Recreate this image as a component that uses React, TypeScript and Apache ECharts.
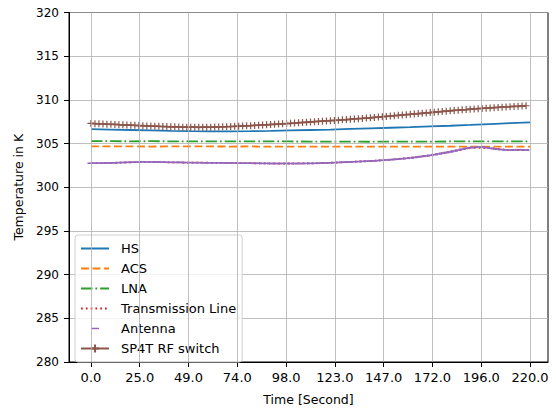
import React, { useEffect, useRef } from "react";
import * as echarts from "echarts";

// Sample grids (seconds)
const tDense: number[] = Array.from({ length: 110 }, (_, i) => i * 2);
const tCoarse: number[] = Array.from({ length: 23 }, (_, i) => i * 10);

const xTickLabels = ["0.0", "25.0", "49.0", "74.0", "98.0", "123.0", "147.0", "172.0", "196.0", "220.0"];

const hsValues = [
  306.65, 306.6, 306.55, 306.5, 306.45, 306.42, 306.4, 306.4, 306.42, 306.45, 306.5, 306.55,
  306.6, 306.67, 306.74, 306.81, 306.88, 306.96, 307.04, 307.13, 307.23, 307.33, 307.43,
];
const acsValues = [
  304.68, 304.67, 304.68, 304.66, 304.67, 304.68, 304.67, 304.66, 304.67, 304.65, 304.66, 304.65,
  304.64, 304.65, 304.64, 304.65, 304.64, 304.65, 304.66, 304.65, 304.66, 304.65, 304.66,
];
const lnaValues = [
  305.27, 305.27, 305.26, 305.27, 305.26, 305.26, 305.25, 305.26, 305.25, 305.24, 305.24, 305.23,
  305.22, 305.22, 305.21, 305.22, 305.22, 305.23, 305.24, 305.25, 305.24, 305.25, 305.25,
];
const transmissionValues = [
  302.75, 302.78, 302.86, 302.9, 302.85, 302.82, 302.8, 302.78, 302.75, 302.72, 302.72, 302.73,
  302.8, 302.9, 303.0, 303.15, 303.35, 303.65, 304.05, 304.52, 304.48, 304.25, 304.25,
];
const antennaValues = [
  302.75, 302.76, 302.75, 302.77, 302.78, 302.78, 302.8, 302.82, 302.83, 302.85,
  302.86, 302.87, 302.88, 302.9, 302.89, 302.9, 302.88, 302.89, 302.87, 302.86,
  302.85, 302.84, 302.85, 302.83, 302.82, 302.82, 302.81, 302.82, 302.8, 302.8,
  302.8, 302.79, 302.8, 302.78, 302.78, 302.78, 302.77, 302.76, 302.76, 302.75,
  302.75, 302.74, 302.74, 302.73, 302.73, 302.72, 302.72, 302.71, 302.72, 302.72,
  302.72, 302.71, 302.72, 302.72, 302.73, 302.73, 302.74, 302.75, 302.77, 302.78,
  302.8, 302.82, 302.84, 302.86, 302.88, 302.9, 302.92, 302.94, 302.96, 302.98,
  303.0, 303.03, 303.06, 303.09, 303.12, 303.15, 303.19, 303.23, 303.27, 303.31,
  303.35, 303.41, 303.47, 303.53, 303.59, 303.65, 303.73, 303.81, 303.89, 303.97,
  304.05, 304.15, 304.25, 304.35, 304.45, 304.52, 304.57, 304.6, 304.59, 304.55,
  304.48, 304.4, 304.34, 304.3, 304.27, 304.25, 304.27, 304.3, 304.28, 304.26,
];
const sp4tValues = [
  307.3, 307.28, 307.26, 307.25, 307.22, 307.2, 307.19, 307.16, 307.14, 307.12,
  307.1, 307.09, 307.06, 307.04, 307.02, 307.0, 306.99, 306.97, 306.95, 306.94,
  306.92, 306.91, 306.9, 306.88, 306.88, 306.87, 306.87, 306.86, 306.87, 306.87,
  306.88, 306.89, 306.9, 306.92, 306.93, 306.95, 306.97, 306.99, 307.01, 307.03,
  307.05, 307.08, 307.1, 307.13, 307.15, 307.18, 307.21, 307.23, 307.26, 307.29,
  307.32, 307.35, 307.38, 307.41, 307.44, 307.47, 307.5, 307.53, 307.56, 307.59,
  307.62, 307.65, 307.68, 307.72, 307.75, 307.78, 307.82, 307.85, 307.88, 307.92,
  307.95, 307.99, 308.03, 308.07, 308.11, 308.15, 308.19, 308.23, 308.27, 308.31,
  308.35, 308.39, 308.43, 308.47, 308.51, 308.55, 308.59, 308.63, 308.67, 308.71,
  308.75, 308.79, 308.82, 308.86, 308.89, 308.93, 308.96, 308.99, 309.02, 309.05,
  309.08, 309.11, 309.14, 309.17, 309.19, 309.22, 309.25, 309.27, 309.3, 309.33,
];

const pair = (t: number[], v: number[]) => v.map((y, i) => [t[i], y]);

const FONT = "DejaVu Sans";
const LW = 1.8;
const GRID_COLOR = "#b0b0b0";
// legend icon for the "_" marker: corner dots set the 28x10 box, bar in the middle
const ANTENNA_ICON = "path://M0,0 L0.01,0 L0,0.01 Z M28,10 L27.99,10 L28,9.99 Z M10,4.3 L18,4.3 L18,5.7 L10,5.7 Z";

export default function App() {
  const ref = useRef<HTMLDivElement>(null);
  useEffect(() => {
    if (!ref.current) return;
    const chart = echarts.init(ref.current, undefined, { renderer: "svg" });
    const step = 220 / 9;
    const tickPos = xTickLabels.map((_, i) => i * step);
    const hideSym = { itemStyle: { opacity: 0 } };
    chart.setOption({
      animation: false,
      backgroundColor: "#fff",
      textStyle: { fontFamily: FONT },
      grid: {
        left: 69,
        top: 12.5,
        width: 479,
        height: 354.5,
        show: true,
        borderColor: "#000",
        borderWidth: 1,
        containLabel: false,
      },
      legend: {
        orient: "vertical",
        left: 75,
        top: 235,
        padding: [7, 6, 7, 5],
        itemGap: 7,
        itemWidth: 28,
        itemHeight: 10,
        backgroundColor: "rgba(255,255,255,0.8)",
        borderColor: "#d0d0d0",
        borderWidth: 1,
        borderRadius: 3,
        textStyle: { fontFamily: FONT, fontSize: 13, color: "#000", padding: [0, 0, 0, 7] },
        data: [
          { name: "HS", ...hideSym },
          { name: "ACS", ...hideSym },
          { name: "LNA", ...hideSym },
          { name: "Transmission Line", ...hideSym },
          { name: "Antenna", icon: ANTENNA_ICON, itemStyle: { color: "#9467bd" } },
          { name: "SP4T RF switch" },
        ],
      },
      xAxis: {
        type: "value",
        min: -11,
        max: 229,
        name: "Time [Second]",
        nameLocation: "middle",
        nameGap: 31,
        nameTextStyle: { fontFamily: FONT, fontSize: 12.5, color: "#000" },
        axisLine: { show: true, onZero: false, lineStyle: { color: "#000", width: 1 } },
        axisTick: { show: true, length: 5, lineStyle: { color: "#000" }, customValues: tickPos },
        axisLabel: {
          customValues: tickPos,
          fontFamily: FONT,
          fontSize: 13,
          color: "#000",
          margin: 9,
          formatter: (v: number) => xTickLabels[Math.round(v / step)] ?? "",
        },
        splitLine: { show: false },
      },
      yAxis: {
        type: "value",
        min: 280,
        max: 320,
        interval: 5,
        name: "Temperature in K",
        nameLocation: "middle",
        nameGap: 42,
        nameTextStyle: { fontFamily: FONT, fontSize: 12.5, color: "#000" },
        axisLine: { show: true, onZero: false, lineStyle: { color: "#000", width: 1 } },
        axisTick: { show: true, length: 5, lineStyle: { color: "#000" } },
        axisLabel: { fontFamily: FONT, fontSize: 12, color: "#000", margin: 10 },
        splitLine: { show: true, lineStyle: { color: GRID_COLOR, width: 0.8 } },
      },
      series: [
        {
          name: "xgrid",
          type: "line",
          data: [],
          silent: true,
          z: 1,
          markLine: {
            silent: true,
            symbol: "none",
            label: { show: false },
            lineStyle: { color: GRID_COLOR, width: 0.8, type: "solid" },
            data: tickPos.map((x) => ({ xAxis: x })),
          },
        },
        {
          name: "HS",
          type: "line",
          data: pair(tCoarse, hsValues),
          showSymbol: false,
          symbol: "none",
          color: "#1f77b4",
          lineStyle: { color: "#1f77b4", width: LW },
        },
        {
          name: "ACS",
          type: "line",
          data: pair(tCoarse, acsValues),
          showSymbol: false,
          symbol: "none",
          color: "#ff7f0e",
          lineStyle: { color: "#ff7f0e", width: LW, type: [8, 3.5] },
        },
        {
          name: "LNA",
          type: "line",
          data: pair(tCoarse, lnaValues),
          showSymbol: false,
          symbol: "none",
          color: "#2ca02c",
          lineStyle: { color: "#2ca02c", width: LW, type: [11.5, 2.9, 1.8, 2.9] },
        },
        {
          name: "Transmission Line",
          type: "line",
          data: pair(tCoarse, transmissionValues),
          showSymbol: false,
          symbol: "none",
          color: "#d62728",
          lineStyle: { color: "#d62728", width: LW, type: [1.8, 3] },
        },
        {
          name: "Antenna",
          type: "line",
          data: pair(tDense, antennaValues),
          showSymbol: true,
          symbol: "rect",
          symbolSize: [7, 1.6],
          color: "#9467bd",
          itemStyle: { color: "#9467bd" },
          lineStyle: { width: 0, opacity: 0 },
        },
        {
          name: "SP4T RF switch",
          type: "line",
          data: pair(tDense, sp4tValues),
          showSymbol: true,
          symbol: "path://M5,0 L5,10 M0,5 L10,5",
          symbolSize: 7,
          color: "#8c564b",
          itemStyle: { color: "#8c564b", borderColor: "#8c564b", borderWidth: 1.2 },
          lineStyle: { color: "#8c564b", width: LW },
        },
      ],
    });
    return () => chart.dispose();
  }, []);
  return (
    <div
      ref={ref}
      style={{ position: "fixed", left: 0, top: 0, width: 556, height: 411, background: "#fff" }}
    />
  );
}
